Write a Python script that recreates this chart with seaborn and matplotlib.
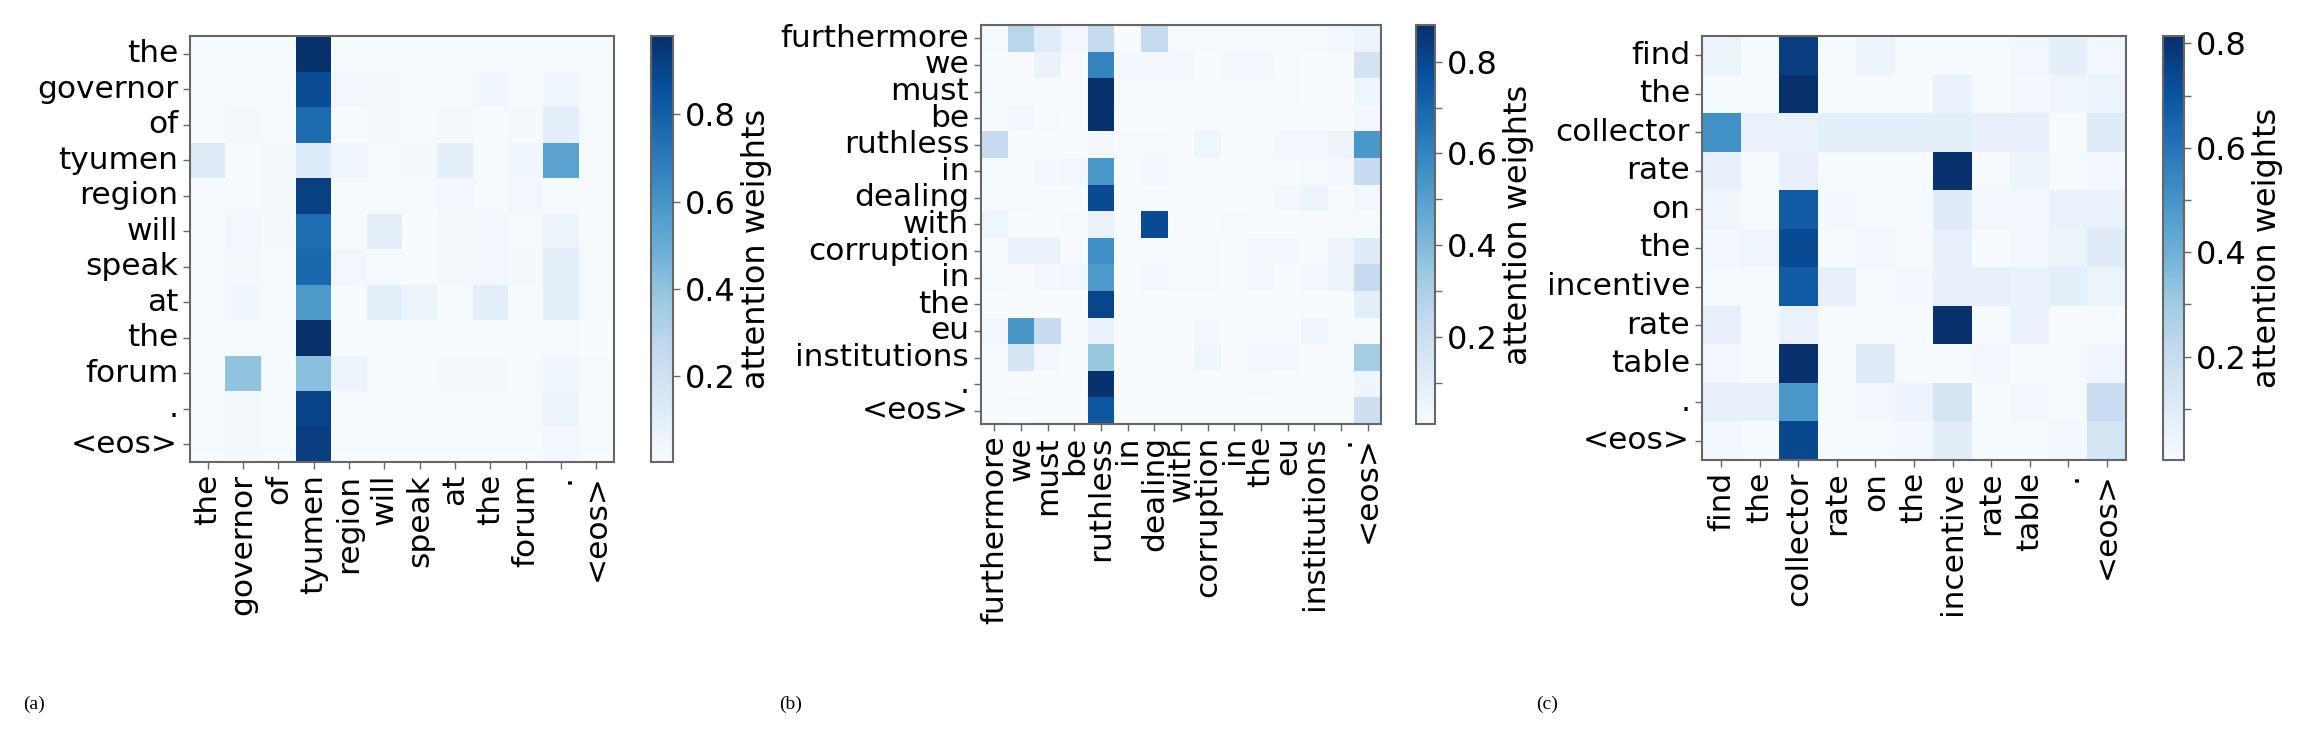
import numpy as np
import matplotlib
matplotlib.use('Agg')
import matplotlib.pyplot as plt
import seaborn as sns

W, H = 2306, 738

TOKENS_A = ['the', 'governor', 'of', 'tyumen', 'region', 'will', 'speak',
            'at', 'the', 'forum', '.', '<eos>']

ATTN_A = [
    [0.01, 0.01, 0.01, 0.97, 0.01, 0.01, 0.01, 0.01, 0.01, 0.01, 0.01, 0.01],
    [0.01, 0.01, 0.01, 0.87, 0.03, 0.02, 0.01, 0.01, 0.04, 0.01, 0.04, 0.01],
    [0.01, 0.02, 0.01, 0.76, 0.01, 0.02, 0.01, 0.02, 0.01, 0.02, 0.10, 0.01],
    [0.12, 0.01, 0.02, 0.13, 0.05, 0.01, 0.02, 0.09, 0.01, 0.04, 0.54, 0.01],
    [0.01, 0.01, 0.02, 0.92, 0.01, 0.01, 0.01, 0.03, 0.01, 0.03, 0.01, 0.01],
    [0.01, 0.03, 0.02, 0.75, 0.01, 0.10, 0.01, 0.02, 0.03, 0.01, 0.06, 0.01],
    [0.01, 0.02, 0.01, 0.77, 0.03, 0.01, 0.01, 0.02, 0.03, 0.02, 0.10, 0.01],
    [0.01, 0.04, 0.01, 0.58, 0.01, 0.09, 0.06, 0.01, 0.10, 0.01, 0.10, 0.01],
    [0.01, 0.01, 0.01, 0.98, 0.01, 0.01, 0.01, 0.01, 0.01, 0.01, 0.01, 0.002],
    [0.01, 0.40, 0.01, 0.42, 0.06, 0.01, 0.01, 0.02, 0.02, 0.01, 0.05, 0.01],
    [0.01, 0.02, 0.01, 0.91, 0.01, 0.01, 0.01, 0.01, 0.01, 0.01, 0.06, 0.01],
    [0.01, 0.02, 0.01, 0.93, 0.01, 0.01, 0.01, 0.01, 0.01, 0.01, 0.03, 0.01],
]

TOKENS_B = ['furthermore', 'we', 'must', 'be', 'ruthless', 'in', 'dealing',
            'with', 'corruption', 'in', 'the', 'eu', 'institutions', '.', '<eos>']

ATTN_B = [
    [0.02, 0.26, 0.11, 0.04, 0.23, 0.01, 0.23, 0.02, 0.02, 0.02, 0.02, 0.02, 0.02, 0.04, 0.06],
    [0.01, 0.01, 0.07, 0.01, 0.60, 0.03, 0.03, 0.03, 0.01, 0.03, 0.03, 0.02, 0.01, 0.01, 0.17],
    [0.02, 0.01, 0.01, 0.01, 0.88, 0.01, 0.01, 0.01, 0.01, 0.01, 0.01, 0.02, 0.01, 0.01, 0.05],
    [0.01, 0.04, 0.02, 0.01, 0.87, 0.01, 0.01, 0.01, 0.01, 0.01, 0.01, 0.01, 0.01, 0.01, 0.03],
    [0.22, 0.01, 0.01, 0.01, 0.03, 0.02, 0.02, 0.01, 0.05, 0.01, 0.01, 0.03, 0.03, 0.06, 0.53],
    [0.02, 0.01, 0.03, 0.04, 0.53, 0.01, 0.04, 0.02, 0.01, 0.01, 0.01, 0.01, 0.02, 0.03, 0.22],
    [0.01, 0.02, 0.01, 0.01, 0.79, 0.01, 0.01, 0.01, 0.01, 0.01, 0.01, 0.03, 0.06, 0.01, 0.04],
    [0.05, 0.01, 0.01, 0.02, 0.07, 0.01, 0.79, 0.01, 0.01, 0.02, 0.01, 0.01, 0.01, 0.01, 0.02],
    [0.01, 0.07, 0.07, 0.01, 0.56, 0.01, 0.01, 0.01, 0.02, 0.01, 0.04, 0.04, 0.01, 0.06, 0.12],
    [0.02, 0.01, 0.03, 0.04, 0.52, 0.01, 0.04, 0.02, 0.02, 0.01, 0.03, 0.01, 0.04, 0.06, 0.23],
    [0.01, 0.01, 0.01, 0.01, 0.81, 0.01, 0.01, 0.01, 0.01, 0.01, 0.01, 0.01, 0.01, 0.01, 0.10],
    [0.04, 0.54, 0.22, 0.01, 0.07, 0.01, 0.01, 0.01, 0.03, 0.01, 0.01, 0.01, 0.05, 0.01, 0.02],
    [0.01, 0.16, 0.04, 0.01, 0.35, 0.01, 0.01, 0.01, 0.05, 0.01, 0.03, 0.03, 0.01, 0.01, 0.32],
    [0.01, 0.01, 0.01, 0.01, 0.87, 0.01, 0.01, 0.01, 0.01, 0.01, 0.02, 0.01, 0.01, 0.01, 0.05],
    [0.01, 0.02, 0.01, 0.01, 0.75, 0.01, 0.01, 0.01, 0.01, 0.01, 0.01, 0.01, 0.01, 0.01, 0.20],
]

TOKENS_C = ['find', 'the', 'collector', 'rate', 'on', 'the', 'incentive',
            'rate', 'table', '.', '<eos>']

ATTN_C = [
    [0.05, 0.01, 0.77, 0.01, 0.05, 0.01, 0.01, 0.01, 0.03, 0.08, 0.03],
    [0.01, 0.01, 0.814, 0.01, 0.01, 0.01, 0.06, 0.01, 0.02, 0.04, 0.05],
    [0.51, 0.06, 0.06, 0.08, 0.08, 0.08, 0.08, 0.07, 0.07, 0.01, 0.10],
    [0.07, 0.01, 0.07, 0.01, 0.01, 0.01, 0.81, 0.01, 0.05, 0.01, 0.02],
    [0.04, 0.01, 0.68, 0.02, 0.01, 0.01, 0.10, 0.03, 0.02, 0.06, 0.06],
    [0.02, 0.04, 0.73, 0.01, 0.02, 0.01, 0.07, 0.01, 0.02, 0.05, 0.10],
    [0.01, 0.01, 0.68, 0.07, 0.01, 0.02, 0.07, 0.07, 0.06, 0.08, 0.05],
    [0.07, 0.01, 0.06, 0.01, 0.01, 0.01, 0.81, 0.01, 0.06, 0.002, 0.01],
    [0.03, 0.01, 0.81, 0.01, 0.10, 0.01, 0.01, 0.02, 0.01, 0.01, 0.04],
    [0.07, 0.07, 0.49, 0.01, 0.02, 0.05, 0.14, 0.01, 0.02, 0.01, 0.19],
    [0.02, 0.01, 0.74, 0.01, 0.01, 0.02, 0.09, 0.01, 0.01, 0.02, 0.15],
]

# pixel boxes (left, top, right, bottom)
PANELS = [
    dict(tokens=TOKENS_A, attn=ATTN_A, heat=(190, 36, 614, 462), cbar=(651, 36, 673, 462),
         tag='(a)', tag_x=23, minor=False),
    dict(tokens=TOKENS_B, attn=ATTN_B, heat=(981, 25, 1381, 424), cbar=(1416, 25, 1435, 424),
         tag='(b)', tag_x=779, minor=True),
    dict(tokens=TOKENS_C, attn=ATTN_C, heat=(1702, 36, 2126, 460), cbar=(2163, 36, 2184, 460),
         tag='(c)', tag_x=1536, minor=True),
]

EDGE = '#666666'
FS = 22.5
FS_CBAR = 23


def px_axes(fig, box):
    l, t, r, b = box
    return fig.add_axes([l / W, 1 - b / H, (r - l) / W, (b - t) / H])


fig = plt.figure(figsize=(W / 100, H / 100), dpi=100)

for p in PANELS:
    ax = px_axes(fig, p['heat'])
    cax = px_axes(fig, p['cbar'])

    sns.heatmap(np.array(p['attn']), ax=ax, cbar_ax=cax, cmap='Blues',
                xticklabels=p['tokens'], yticklabels=p['tokens'])

    ax.set_xticklabels(p['tokens'], rotation=90, fontsize=FS)
    ax.set_yticklabels(p['tokens'], rotation=0, fontsize=FS)
    ax.tick_params(colors=EDGE, labelcolor='black', length=5, width=1)
    for sp in ax.spines.values():
        sp.set_visible(True)
        sp.set_color(EDGE)
        sp.set_linewidth(1.5)

    cbar = ax.collections[0].colorbar
    cbar.outline.set_linewidth(1.5)
    cbar.outline.set_edgecolor(EDGE)
    cbar.set_ticks([0.2, 0.4, 0.6, 0.8])
    if p['minor']:
        cax.set_yticks([0.1, 0.3, 0.5, 0.7], minor=True)
    cax.tick_params(which='both', colors=EDGE, labelcolor='black', length=5, width=1,
                    labelsize=FS_CBAR)
    cbar.set_label('attention weights', fontsize=FS_CBAR)

    fig.text(p['tag_x'] / W, 1 - 704 / H, p['tag'], family='Liberation Serif',
             fontsize=14, va='center', ha='left')

fig.savefig('out.png', dpi=100)
